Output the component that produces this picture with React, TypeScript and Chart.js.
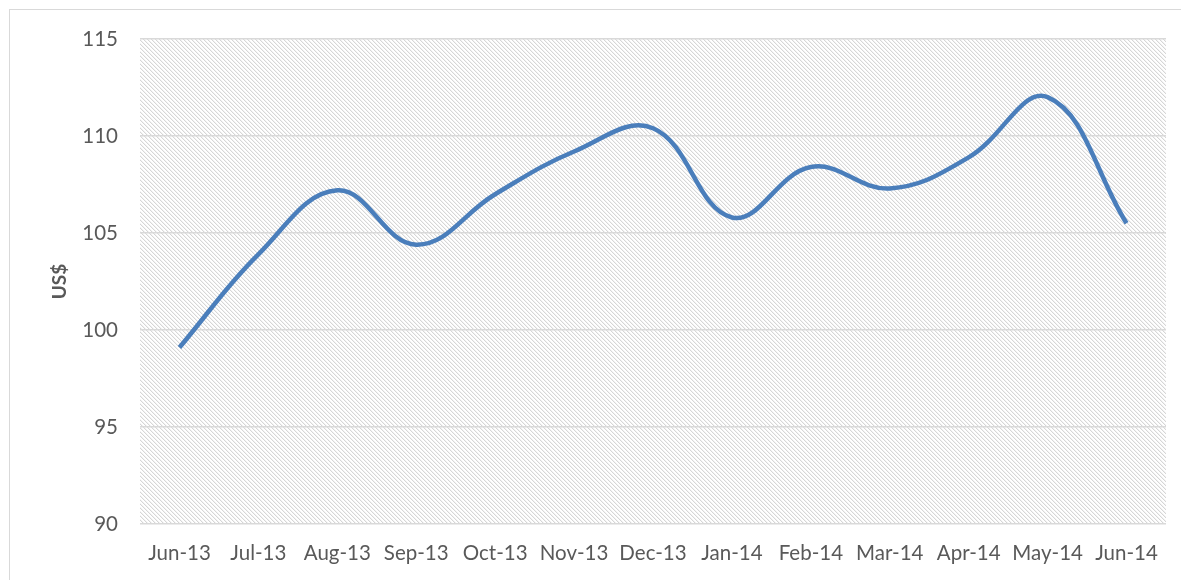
import React, { useEffect, useRef } from "react";
import { Chart, registerables } from "chart.js";

Chart.register(...registerables);

const categories = ["Jun-13", "Jul-13", "Aug-13", "Sep-13", "Oct-13", "Nov-13", "Dec-13", "Jan-14", "Feb-14", "Mar-14", "Apr-14", "May-14", "Jun-14"];
const priceValues = [99.1, 103.9, 107.2, 104.4, 107.0, 109.2, 110.4, 105.8, 108.4, 107.3, 108.9, 112.0, 105.5];
const yTicks = [90, 95, 100, 105, 110, 115];
const yTitle = "US$";

const FONT = "Lato, 'Open Sans', sans-serif";

function makePattern(ctx: CanvasRenderingContext2D) {
  const c = document.createElement("canvas");
  c.width = 4;
  c.height = 4;
  const g = c.getContext("2d")!;
  g.fillStyle = "#ffffff";
  g.fillRect(0, 0, 4, 4);
  for (let y = 0; y < 4; y++) {
    for (let x = 0; x < 4; x++) {
      const d = (((x - y) % 4) + 4) % 4;
      if (d === 0) {
        g.fillStyle = "#d6d6d6";
        g.fillRect(x, y, 1, 1);
      } else if (d === 1) {
        g.fillStyle = "#f3f3f3";
        g.fillRect(x, y, 1, 1);
      }
    }
  }
  return ctx.createPattern(c, "repeat")!;
}

const bgPlugin = {
  id: "bgPlugin",
  beforeDraw(chart: any) {
    const { ctx, chartArea } = chart;
    ctx.save();
    ctx.fillStyle = "#ffffff";
    ctx.fillRect(0, 0, chart.width, chart.height);
    ctx.strokeStyle = "#d9d9d9";
    ctx.lineWidth = 1;
    ctx.strokeRect(9.5, 9.5, chart.width + 20, chart.height + 20);
    ctx.fillStyle = makePattern(ctx);
    ctx.fillRect(chartArea.left, chartArea.top, chartArea.right - chartArea.left, chartArea.bottom - chartArea.top);
    ctx.translate(60, (chartArea.top + chartArea.bottom) / 2);
    ctx.rotate(-Math.PI / 2);
    ctx.fillStyle = "#595959";
    ctx.font = "bold 19px " + FONT;
    ctx.textAlign = "center";
    ctx.textBaseline = "middle";
    ctx.fillText(yTitle, 0, 0);
    ctx.restore();
  },
};

export default function App() {
  const ref = useRef<HTMLCanvasElement>(null);
  useEffect(() => {
    const chart = new Chart(ref.current!, {
      type: "line",
      data: {
        labels: categories,
        datasets: [
          {
            data: priceValues,
            borderColor: "#4a7ebb",
            borderWidth: 4.5,
            pointRadius: 0,
            tension: 0.4,
            fill: false,
            borderCapStyle: "butt",
          },
        ],
      },
      options: {
        animation: false,
        responsive: false,
        layout: { padding: { left: 0, right: 15, top: 39, bottom: 0 } },
        plugins: { legend: { display: false }, tooltip: { enabled: false } },
        scales: {
          x: {
            offset: true,
            grid: { display: false, drawTicks: false },
            border: { display: false },
            ticks: { color: "#595959", font: { family: FONT, size: 20.5 }, padding: 17, maxRotation: 0, autoSkip: false },
            afterFit: (s: any) => { s.height = 56; },
          },
          y: {
            min: 90,
            max: 115,
            afterBuildTicks: (s: any) => { s.ticks = yTicks.map((v) => ({ value: v })); },
            grid: { color: "#d9d9d9", lineWidth: 1.5, drawTicks: false },
            border: { display: false },
            ticks: { color: "#595959", font: { family: FONT, size: 20.5 }, padding: 22 },
            afterFit: (s: any) => { s.width = 140; },
          },
        },
      },
      plugins: [bgPlugin],
    });
    return () => chart.destroy();
  }, []);
  return (
    <div style={{ position: "fixed", left: 0, top: 0, width: 1181, height: 580 }}>
      <canvas ref={ref} width={1181} height={580} style={{ display: "block" }} />
    </div>
  );
}
